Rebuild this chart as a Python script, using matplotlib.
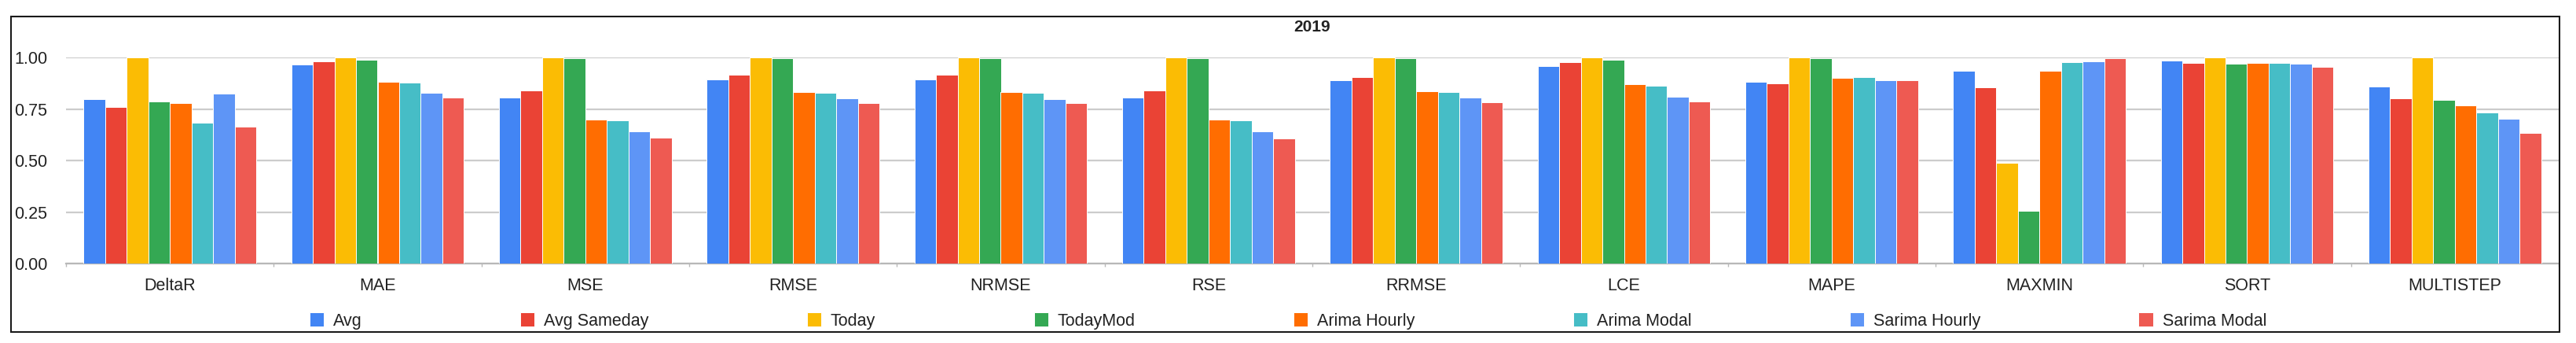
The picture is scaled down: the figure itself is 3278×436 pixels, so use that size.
"""2019 metric scores per forecasting method, grouped bar chart."""

import numpy as np
import matplotlib
matplotlib.use("Agg")
import matplotlib.pyplot as plt
from matplotlib.patches import Rectangle

plt.rcParams["font.family"] = ["Liberation Sans", "DejaVu Sans"]

metrics = ["DeltaR", "MAE", "MSE", "RMSE", "NRMSE", "RSE", "RRMSE",
           "LCE", "MAPE", "MAXMIN", "SORT", "MULTISTEP"]

methods = ["Avg", "Avg Sameday", "Today", "TodayMod",
           "Arima Hourly", "Arima Modal", "Sarima Hourly", "Sarima Modal"]

avg = [0.797, 0.967, 0.804, 0.893, 0.893, 0.804, 0.891, 0.958, 0.881, 0.934, 0.983, 0.858]
avg_sameday = [0.759, 0.982, 0.839, 0.916, 0.916, 0.839, 0.905, 0.977, 0.873, 0.856, 0.973, 0.802]
today = [1.0, 1.0, 1.0, 1.0, 1.0, 1.0, 1.0, 1.0, 1.0, 0.489, 1.0, 1.0]
today_mod = [0.788, 0.989, 0.996, 0.998, 0.998, 0.998, 0.998, 0.990, 0.995, 0.254, 0.970, 0.793]
arima_hourly = [0.778, 0.882, 0.700, 0.832, 0.832, 0.700, 0.837, 0.869, 0.900, 0.934, 0.975, 0.766]
arima_modal = [0.684, 0.879, 0.695, 0.830, 0.830, 0.695, 0.832, 0.864, 0.905, 0.976, 0.972, 0.733]
sarima_hourly = [0.826, 0.827, 0.642, 0.800, 0.799, 0.642, 0.804, 0.809, 0.889, 0.980, 0.971, 0.704]
sarima_modal = [0.666, 0.806, 0.609, 0.778, 0.778, 0.607, 0.781, 0.787, 0.891, 0.997, 0.956, 0.633]

series = [avg, avg_sameday, today, today_mod,
          arima_hourly, arima_modal, sarima_hourly, sarima_modal]

colors = ["#4285F4", "#EA4335", "#FBBC04", "#34A853",
          "#FF6D01", "#46BDC6", "#5E95F6", "#EE5A52"]

W, H, DPI = 3278, 436, 100
fig = plt.figure(figsize=(W / DPI, H / DPI), dpi=DPI)

# plot area in pixel coordinates of the picture
left, right, top, bottom = 84, 3256, 73, 335
ax = fig.add_axes([left / W, 1 - bottom / H, (right - left) / W, (bottom - top) / H])

x = np.arange(len(metrics))
bw = 0.104
for i, (vals, name, col) in enumerate(zip(series, methods, colors)):
    ax.bar(x + (i - 3.5) * bw, vals, width=bw, color=col, label=name,
           edgecolor="white", linewidth=0.7, zorder=3)

ax.set_xlim(-0.5, len(metrics) - 0.5)
ax.set_ylim(0, 1)
ax.set_yticks([0, 0.25, 0.5, 0.75, 1.0])
ax.set_yticklabels(["0.00", "0.25", "0.50", "0.75", "1.00"])
ax.set_xticks(x)
ax.set_xticklabels(metrics)
ax.set_xticks(np.arange(-0.5, len(metrics)), minor=True)

ax.grid(axis="y", color="#cccccc", linewidth=1.6, zorder=0)
ax.set_axisbelow(True)
for s in ["top", "right", "left"]:
    ax.spines[s].set_visible(False)
ax.spines["bottom"].set_color("#b8b8b8")
ax.spines["bottom"].set_linewidth(1.6)

ax.tick_params(axis="y", length=0, pad=17, labelsize=15.5, labelcolor="#222222")
ax.tick_params(axis="x", which="major", length=0, pad=13, labelsize=15.5, labelcolor="#222222")
ax.tick_params(axis="x", which="minor", length=3, width=1, color="#b8b8b8")

fig.text((left + right) / 2 / W, 1 - 35 / H, "2019", ha="center", va="center",
         fontsize=15, fontweight="bold", color="#222222")

fig.legend(loc="center", bbox_to_anchor=(0.5, 1 - 408 / H), ncol=8, frameon=False,
           fontsize=15.5, handlelength=0.85, handleheight=0.85, handletextpad=0.55,
           columnspacing=9.35, borderaxespad=0, labelcolor="#222222")

# outer frame round the whole chart
fig.patches.append(Rectangle((14 / W, 1 - 422 / H), (3257 - 14) / W, (422 - 21) / H,
                             transform=fig.transFigure, fill=False,
                             edgecolor="#1a1a1a", linewidth=1.5))

fig.savefig("out.png", dpi=DPI)
